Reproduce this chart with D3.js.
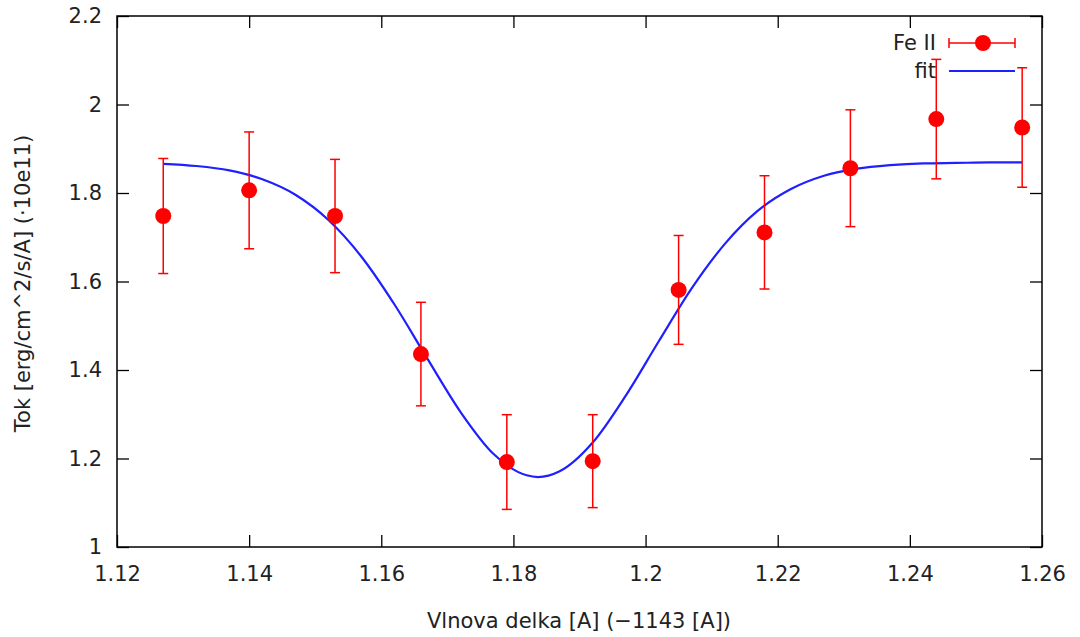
<!DOCTYPE html>
<html>
<head>
<meta charset="utf-8">
<script src="https://cdn.jsdelivr.net/npm/d3@7"></script>
<style>
  body { margin: 0; background: #fff; }
  text { font-family: "DejaVu Sans", sans-serif; fill: #222; }
</style>
</head>
<body>
<script>
const width = 1080;
const height = 637;
const margins = { top: 16, left: 117, bottom: 90, right: 38 };
const fontSize = 21;

const draw_width = width - margins.left - margins.right;
const draw_height = height - margins.top - margins.bottom;

// measured points (Fe II) with errors
const waveX = [1.127, 1.140, 1.153, 1.166, 1.179, 1.192, 1.205, 1.218, 1.231, 1.244, 1.257];
const fluxY = [1.748, 1.806, 1.748, 1.436, 1.192, 1.194, 1.581, 1.711, 1.856, 1.967, 1.948];
const fluxErr = [0.130, 0.132, 0.128, 0.117, 0.107, 0.105, 0.123, 0.128, 0.132, 0.135, 0.135];

// fit curve
const fitX = [1.127, 1.132, 1.137, 1.142, 1.147, 1.152, 1.157, 1.162, 1.167, 1.172,
  1.177, 1.182, 1.1837, 1.187, 1.192, 1.197, 1.202, 1.207, 1.212, 1.217,
  1.222, 1.227, 1.232, 1.237, 1.242, 1.247, 1.252, 1.257];
const fitY = [1.866, 1.861, 1.851, 1.831, 1.796, 1.739, 1.656, 1.548, 1.425, 1.305,
  1.210, 1.162, 1.158, 1.171, 1.236, 1.342, 1.465, 1.585, 1.685, 1.760,
  1.809, 1.839, 1.855, 1.863, 1.867, 1.868, 1.869, 1.869];

const xTicks = [1.12, 1.14, 1.16, 1.18, 1.2, 1.22, 1.24, 1.26];
const yTicks = [1, 1.2, 1.4, 1.6, 1.8, 2, 2.2];

const svg = d3.select('body')
  .append('svg')
  .attr('width', width)
  .attr('height', height);

const xScale = d3.scaleLinear().domain([1.12, 1.26]).range([0, draw_width]);
const yScale = d3.scaleLinear().domain([1, 2.2]).range([draw_height, 0]);

const chart_g = svg.append('g')
  .attr('transform', 'translate(' + margins.left + ',' + margins.top + ')');

// axes, ticks pointing inward on all four sides
const tickLen = 12;
function styleAxis(g) {
  g.select('.domain').remove();
  g.selectAll('.tick line').attr('stroke', '#000').attr('stroke-width', 1.3);
  g.selectAll('.tick text').attr('font-size', fontSize).attr('fill', '#222');
}

chart_g.append('g')
  .attr('transform', 'translate(0,' + draw_height + ')')
  .call(d3.axisBottom(xScale).tickValues(xTicks).tickSize(-tickLen).tickPadding(19).tickFormat(d => String(d)))
  .call(styleAxis);

chart_g.append('g')
  .call(d3.axisTop(xScale).tickValues(xTicks).tickSize(-tickLen).tickFormat(''))
  .call(styleAxis);

chart_g.append('g')
  .call(d3.axisLeft(yScale).tickValues(yTicks).tickSize(-tickLen).tickPadding(15).tickFormat(d => String(d)))
  .call(styleAxis);

chart_g.append('g')
  .attr('transform', 'translate(' + draw_width + ',0)')
  .call(d3.axisRight(yScale).tickValues(yTicks).tickSize(-tickLen).tickFormat(''))
  .call(styleAxis);

// frame
chart_g.append('rect')
  .attr('width', draw_width)
  .attr('height', draw_height)
  .attr('fill', 'none')
  .attr('stroke', '#000')
  .attr('stroke-width', 1.5);

// fit line
const fitData = fitX.map((x, i) => ({ x: x, y: fitY[i] }));
const line = d3.line()
  .x(d => xScale(d.x))
  .y(d => yScale(d.y))
  .curve(d3.curveMonotoneX);

chart_g.append('path')
  .datum(fitData)
  .attr('d', line)
  .attr('fill', 'none')
  .attr('stroke', '#1f1fff')
  .attr('stroke-width', 2.2);

// error bars + points
const pts = waveX.map((x, i) => ({ x: x, y: fluxY[i], e: fluxErr[i] }));
const red = '#ff0000';
const cap = 5;

const eb = chart_g.selectAll('.err')
  .data(pts)
  .enter()
  .append('g')
  .attr('class', 'err')
  .attr('stroke', red)
  .attr('stroke-width', 1.5);

eb.append('line')
  .attr('x1', d => xScale(d.x)).attr('x2', d => xScale(d.x))
  .attr('y1', d => yScale(d.y - d.e)).attr('y2', d => yScale(d.y + d.e));
eb.append('line')
  .attr('x1', d => xScale(d.x) - cap).attr('x2', d => xScale(d.x) + cap)
  .attr('y1', d => yScale(d.y + d.e)).attr('y2', d => yScale(d.y + d.e));
eb.append('line')
  .attr('x1', d => xScale(d.x) - cap).attr('x2', d => xScale(d.x) + cap)
  .attr('y1', d => yScale(d.y - d.e)).attr('y2', d => yScale(d.y - d.e));

chart_g.selectAll('.dot')
  .data(pts)
  .enter()
  .append('circle')
  .attr('class', 'dot')
  .attr('cx', d => xScale(d.x))
  .attr('cy', d => yScale(d.y))
  .attr('r', 8)
  .attr('fill', red);

// legend
const leg = svg.append('g');
leg.append('text')
  .attr('x', 936).attr('y', 50)
  .attr('text-anchor', 'end')
  .attr('font-size', fontSize)
  .text('Fe II');
leg.append('line')
  .attr('x1', 949).attr('x2', 1015).attr('y1', 43).attr('y2', 43)
  .attr('stroke', red).attr('stroke-width', 1.5);
[949, 1015].forEach(x => {
  leg.append('line')
    .attr('x1', x).attr('x2', x).attr('y1', 38).attr('y2', 48)
    .attr('stroke', red).attr('stroke-width', 1.5);
});
leg.append('circle').attr('cx', 983).attr('cy', 43).attr('r', 8).attr('fill', red);

leg.append('text')
  .attr('x', 936).attr('y', 78)
  .attr('text-anchor', 'end')
  .attr('font-size', fontSize)
  .text('fit');
leg.append('line')
  .attr('x1', 949).attr('x2', 1015).attr('y1', 71).attr('y2', 71)
  .attr('stroke', '#1f1fff').attr('stroke-width', 2.2);

// axis titles
svg.append('text')
  .attr('x', 579)
  .attr('y', 628)
  .attr('text-anchor', 'middle')
  .attr('font-size', fontSize)
  .text('Vlnova delka [A] (\u22121143 [A])');

svg.append('text')
  .attr('transform', 'translate(30,' + (margins.top + draw_height / 2 + 2) + ') rotate(-90)')
  .attr('text-anchor', 'middle')
  .attr('font-size', fontSize)
  .text('Tok [erg/cm^2/s/A] (\u00b710e11)');
</script>
</body>
</html>
